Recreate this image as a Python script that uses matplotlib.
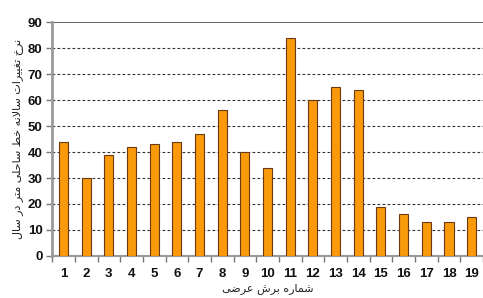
import matplotlib
matplotlib.use("Agg")
import matplotlib.pyplot as plt
import numpy as np

# cross-section numbers and yearly shoreline change rate (m/yr)
sections = list(range(1, 20))
rates = [44, 30, 39, 42, 43, 44, 47, 56, 40, 34, 84, 60, 65, 64, 19, 16, 13, 13, 15]
y_ticks = [0, 10, 20, 30, 40, 50, 60, 70, 80, 90]

x_label = "شماره برش عرضی"
y_label = "نرخ تغییرات سالانه خط ساحلی متر در سال"

# (isolated, final, initial, medial) presentation forms
FORMS = {
    "ا": ("\uFE8D", "\uFE8E", None, None),
    "د": ("\uFEA9", "\uFEAA", None, None),
    "ر": ("\uFEAD", "\uFEAE", None, None),
    "ب": ("\uFE8F", "\uFE90", "\uFE91", "\uFE92"),
    "ت": ("\uFE95", "\uFE96", "\uFE97", "\uFE98"),
    "ح": ("\uFEA1", "\uFEA2", "\uFEA3", "\uFEA4"),
    "خ": ("\uFEA5", "\uFEA6", "\uFEA7", "\uFEA8"),
    "س": ("\uFEB1", "\uFEB2", "\uFEB3", "\uFEB4"),
    "ش": ("\uFEB5", "\uFEB6", "\uFEB7", "\uFEB8"),
    "ض": ("\uFEBD", "\uFEBE", "\uFEBF", "\uFEC0"),
    "ط": ("\uFEC1", "\uFEC2", "\uFEC3", "\uFEC4"),
    "ع": ("\uFEC9", "\uFECA", "\uFECB", "\uFECC"),
    "غ": ("\uFECD", "\uFECE", "\uFECF", "\uFED0"),
    "ل": ("\uFEDD", "\uFEDE", "\uFEDF", "\uFEE0"),
    "م": ("\uFEE1", "\uFEE2", "\uFEE3", "\uFEE4"),
    "ن": ("\uFEE5", "\uFEE6", "\uFEE7", "\uFEE8"),
    "ه": ("\uFEE9", "\uFEEA", "\uFEEB", "\uFEEC"),
    "ی": ("\uFEEF", "\uFEF0", "\uFEF3", "\uFEF4"),
}


def dual(ch):
    return ch in FORMS and FORMS[ch][2] is not None


def shape(text):
    # crude Persian shaping + visual reordering (matplotlib has no bidi)
    out = []
    i = 0
    n = len(text)
    while i < n:
        ch = text[i]
        if ch not in FORMS:
            out.append(ch)
            i += 1
            continue
        prev_joins = i > 0 and dual(text[i - 1])
        if ch == "ل" and i + 1 < n and text[i + 1] == "ا":
            out.append("\uFEFC" if prev_joins else "\uFEFB")
            i += 2
            continue
        next_joins = dual(ch) and i + 1 < n and text[i + 1] in FORMS
        iso, fin, ini, med = FORMS[ch]
        if prev_joins and next_joins:
            out.append(med)
        elif prev_joins:
            out.append(fin)
        elif next_joins:
            out.append(ini)
        else:
            out.append(iso)
        i += 1
    return "".join(reversed(out))


fig = plt.figure(figsize=(4.83, 2.98), dpi=100)
ax = fig.add_axes([0.108, 0.141, 0.892, 0.785])

ax.bar(sections, rates, width=0.4, color="#F99A0B", edgecolor="#6B3A12",
       linewidth=0.8, zorder=3)

ax.set_xlim(0.56, 19.5)
ax.set_ylim(0, 90)
ax.set_yticks(y_ticks)
ax.set_xticks(sections)
ax.set_xticks(np.arange(0.5, 20, 1), minor=True)

for y in y_ticks[1:-1]:
    ax.axhline(y, color="#333333", linestyle=(0, (2.5, 2)), linewidth=0.8, zorder=1)

for side in ["top", "right"]:
    ax.spines[side].set_visible(False)
ax.axhline(90, color="#444444", linewidth=1.2, zorder=2)
ax.spines["left"].set_color("#9a9a9a")
ax.spines["left"].set_linewidth(2)
ax.spines["bottom"].set_color("#9a9a9a")
ax.spines["bottom"].set_linewidth(1.5)

ax.tick_params(axis="y", length=4, width=1, color="#777777", pad=3)
ax.tick_params(axis="x", which="major", length=0, pad=9)
ax.tick_params(axis="x", which="minor", length=4, width=1, color="#777777")

for lbl in ax.get_xticklabels() + ax.get_yticklabels():
    lbl.set_fontfamily("Liberation Sans")
    lbl.set_fontweight("bold")
    lbl.set_fontsize(9.5)
    lbl.set_color("#111111")

ax.set_xlabel(shape(x_label), fontfamily="DejaVu Sans", fontsize=8,
              labelpad=2, color="#222222")
ax.set_ylabel(shape(y_label), fontfamily="DejaVu Sans", fontsize=8,
              labelpad=3, color="#222222")

fig.savefig("out.png", dpi=100)
